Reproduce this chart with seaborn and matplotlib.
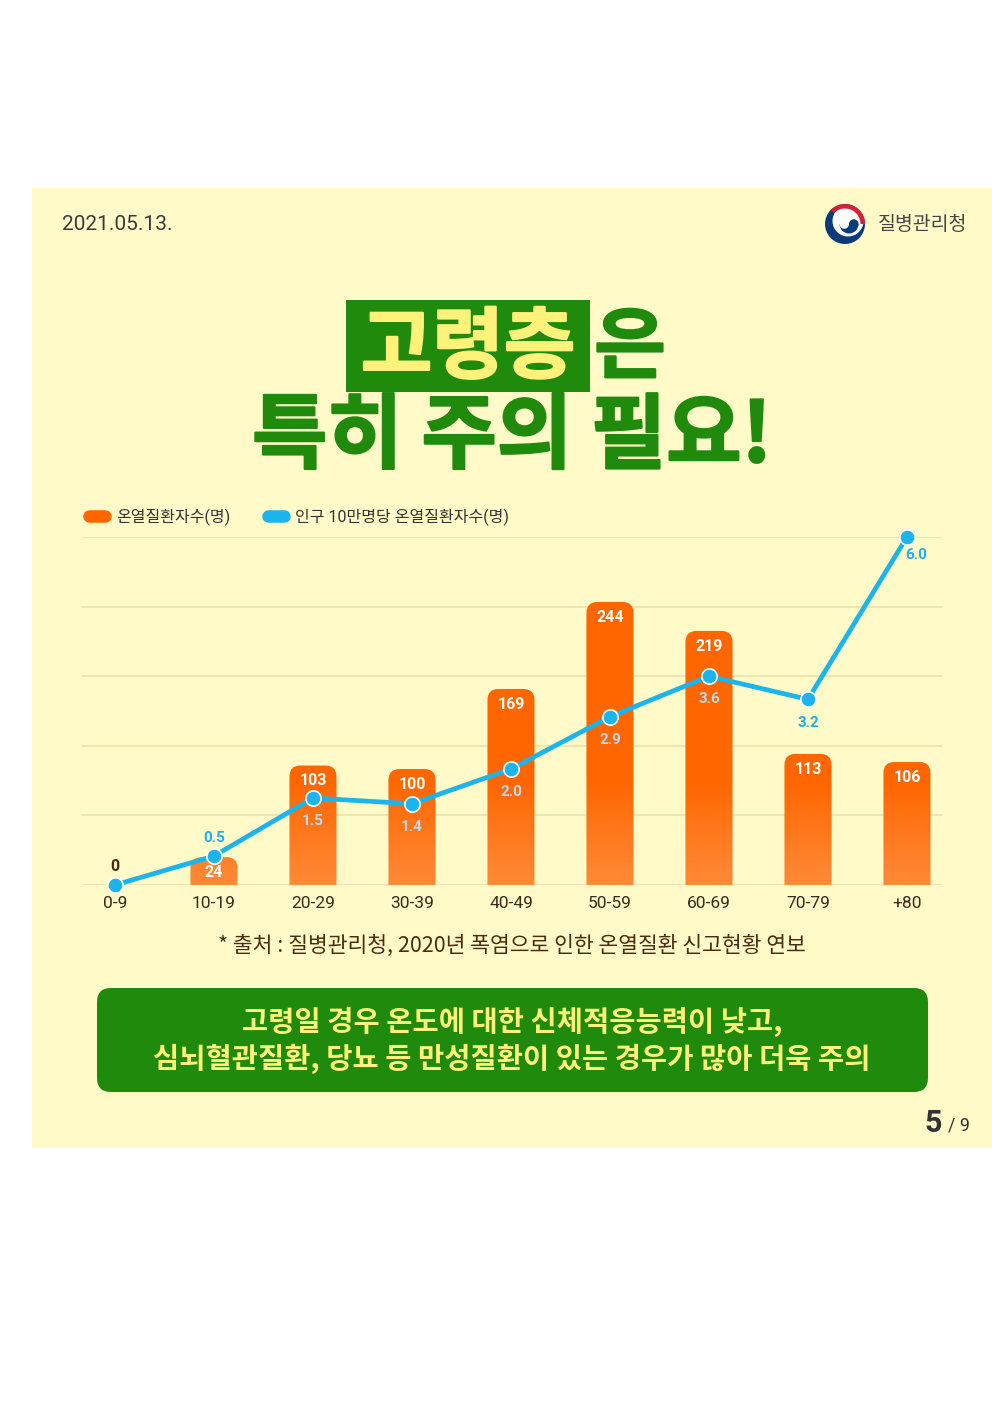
import numpy as np
import seaborn as sns
import matplotlib.pyplot as plt
import matplotlib.patheffects as pe
from matplotlib.patches import Rectangle, FancyBboxPatch, Circle, Wedge
from matplotlib.lines import Line2D
from matplotlib.colors import LinearSegmentedColormap

# data
ages = ['0-9', '10-19', '20-29', '30-39', '40-49', '50-59', '60-69', '70-79', '+80']
cases = [0, 24, 103, 100, 169, 244, 219, 113, 106]
rates = [0.0, 0.5, 1.5, 1.4, 2.0, 2.9, 3.6, 3.2, 6.0]
legend_labels = ['온열질환자수(명)', '인구 10만명당 온열질환자수(명)']

ORANGE = '#FF6600'
BLUE = '#1BB4EC'
GREEN = '#1F8A0C'
YELLOW = '#FFF27A'
PANEL = '#FFFAC8'
NAVY = '#0B3B7A'

sns.set_theme(style='white')
plt.rcParams['font.family'] = ['Roboto', 'Noto Sans CJK KR', 'DejaVu Sans']

fig = plt.figure(figsize=(9.92, 14.03), dpi=100)
fig.patch.set_facecolor('white')

# background layer in pixel coordinates
bg = fig.add_axes([0, 0, 1, 1], zorder=0)
bg.set_xlim(0, 992)
bg.set_ylim(1403, 0)
bg.axis('off')
bg.add_patch(Rectangle((32, 188), 960, 960, color=PANEL, lw=0))

kr = ['Noto Sans CJK KR', 'DejaVu Sans']

# header
bg.text(62, 225, '2021.05.13.', fontsize=15, color='#3a3a3a', va='center', ha='left',
        family=['Roboto', 'DejaVu Sans'])
# logo (y axis is inverted here, so screen angle phi -> 360 - phi)
bg.add_patch(Circle((845, 224), 20, color=NAVY, lw=0))
bg.add_patch(Circle((848, 221), 15.5, color='white', lw=0))
bg.add_patch(Wedge((845, 224), 20, 225, 360, width=4.5, color='#D3213A', lw=0))
bg.add_patch(Wedge((849, 224), 9.5, 0, 180, color=NAVY, lw=0))
bg.add_patch(Circle((844.25, 224), 4.75, color='white', lw=0))
bg.add_patch(Circle((853.75, 224), 4.75, color=NAVY, lw=0))
bg.text(878, 224, '질병관리청', fontsize=14, color='#444444', va='center', ha='left',
        family=kr, weight='medium')

# title
thick_y = [pe.withStroke(linewidth=1.5, foreground=YELLOW)]
thick_g = [pe.withStroke(linewidth=1.5, foreground=GREEN)]
bg.add_patch(Rectangle((346, 300), 244, 92, color=GREEN, lw=0))
bg.text(468, 349, '고령층', fontsize=56, color=YELLOW, ha='center', va='center',
        family=kr, weight='black', path_effects=thick_y)
bg.text(630, 349, '은', fontsize=56, color=GREEN, ha='center', va='center',
        family=kr, weight='black', path_effects=thick_g)
bg.text(512, 438, '특히 주의 필요!', fontsize=59, color=GREEN, ha='center', va='center',
        family=kr, weight='black', path_effects=thick_g)

# source note
bg.text(512, 946, '* 출처 : 질병관리청, 2020년 폭염으로 인한 온열질환 신고현황 연보',
        fontsize=15.5, color='#4B2C12', ha='center', va='center', family=kr, weight='medium')

# green message box
bg.add_patch(FancyBboxPatch((97, 988), 831, 104, boxstyle='round,pad=0,rounding_size=14',
                            color=GREEN, lw=0))
bg.text(512, 1022, '고령일 경우 온도에 대한 신체적응능력이 낮고,', fontsize=20.5, color=YELLOW,
        ha='center', va='center', family=kr, weight='bold')
bg.text(512, 1059, '심뇌혈관질환, 당뇨 등 만성질환이 있는 경우가 많아 더욱 주의', fontsize=20.5,
        color=YELLOW, ha='center', va='center', family=kr, weight='bold')

# page number
bg.text(942, 1123, '5', fontsize=22, color='#333333', ha='right', va='center',
        family=['Roboto', 'DejaVu Sans'], weight='bold')
bg.text(948, 1126, '/ 9', fontsize=13, color='#333333', ha='left', va='center',
        family=['Roboto', 'DejaVu Sans'])

# chart
ax = fig.add_axes([82 / 992, 1 - 885 / 1403, 860 / 992, 348 / 1403], zorder=2)
ax.patch.set_alpha(0)
sns.barplot(x=ages, y=cases, ax=ax, color=ORANGE, width=0.475, saturation=1, zorder=2)
ax.set_xlim(-0.333, 8.354)
ax.set_ylim(0, 300)
ax.set_yticks(np.arange(0, 301, 60))
ax.yaxis.grid(True, color='#EEE6AE', lw=1.5, zorder=0)
ax.set_yticklabels([])
ax.set_xlabel('')
ax.set_ylabel('')
for s in ax.spines.values():
    s.set_visible(False)
ax.tick_params(axis='x', length=0, pad=8, labelsize=12.5, labelcolor='#3B2A1A')
ax.tick_params(axis='y', length=0)

# rounded bars with a gradient toward the base
cmap = LinearSegmentedColormap.from_list('og', ['#FF8A38', ORANGE])
aspect = (300 / 348) / (8.687 / 860)
for p in list(ax.patches):
    x0, w, h = p.get_x(), p.get_width(), p.get_height()
    p.set_visible(False)
    if h <= 0:
        continue
    shape = FancyBboxPatch((x0, -20), w, h + 20,
                           boxstyle='round,pad=0,rounding_size=0.11',
                           mutation_aspect=aspect, facecolor='none', lw=0)
    ax.add_patch(shape)
    yy = np.linspace(0, h, 100)
    grad = np.clip(yy / 90, 0, 1)[:, None]
    im = ax.imshow(grad, extent=(x0, x0 + w, 0, h), origin='lower', cmap=cmap,
                   vmin=0, vmax=1, aspect='auto', zorder=2)
    im.set_clip_path(shape)

ax.set_xlim(-0.333, 8.354)
ax.set_ylim(0, 300)

for i, v in enumerate(cases):
    if v == 0:
        ax.text(i, 16, str(v), ha='center', va='center', fontsize=11.5,
                color='#4B2C12', weight='bold', zorder=5)
    else:
        ax.text(i, v - 13, str(v), ha='center', va='center', fontsize=11.5,
                color='white', weight='bold', zorder=5)

# line on twin axis
ax2 = ax.twinx()
ax2.set_ylim(0, 6)
ax2.axis('off')
pos = np.arange(len(ages))
sns.lineplot(x=pos, y=rates, ax=ax2, color=BLUE, lw=3.4, marker='o', markersize=11,
             markeredgecolor='white', markeredgewidth=1.2, zorder=4, clip_on=False)
for ln in ax2.lines:
    ln.set_clip_on(False)
ax2.set_xlim(-0.333, 8.354)

for i, r in enumerate(rates):
    if i == 0:
        continue
    if i == 1:
        ty, tx = r + 0.31, i
    elif i == len(rates) - 1:
        ty, tx = r - 0.31, i + 0.09
    else:
        ty, tx = r - 0.4, i
    inside = ty * 50 < cases[i]
    ax2.text(tx, ty, f'{r:.1f}', ha='center', va='center', fontsize=11, weight='bold',
             color='#B3DCEF' if inside else '#22AEE6', zorder=6)

# legend
handles = [Line2D([0], [0], color=ORANGE, lw=9, solid_capstyle='round'),
           Line2D([0], [0], color=BLUE, lw=9, solid_capstyle='round')]
leg = fig.legend(handles, legend_labels, loc='center left',
                 bbox_to_anchor=(89 / 992, 1 - 517 / 1403), ncol=2, frameon=False,
                 borderpad=0, borderaxespad=0,
                 handlelength=1.0, handletextpad=0.68, columnspacing=2.4, fontsize=11.5)
for t in leg.get_texts():
    t.set_color('#333333')

fig.savefig('out.png', dpi=100, facecolor='white')
